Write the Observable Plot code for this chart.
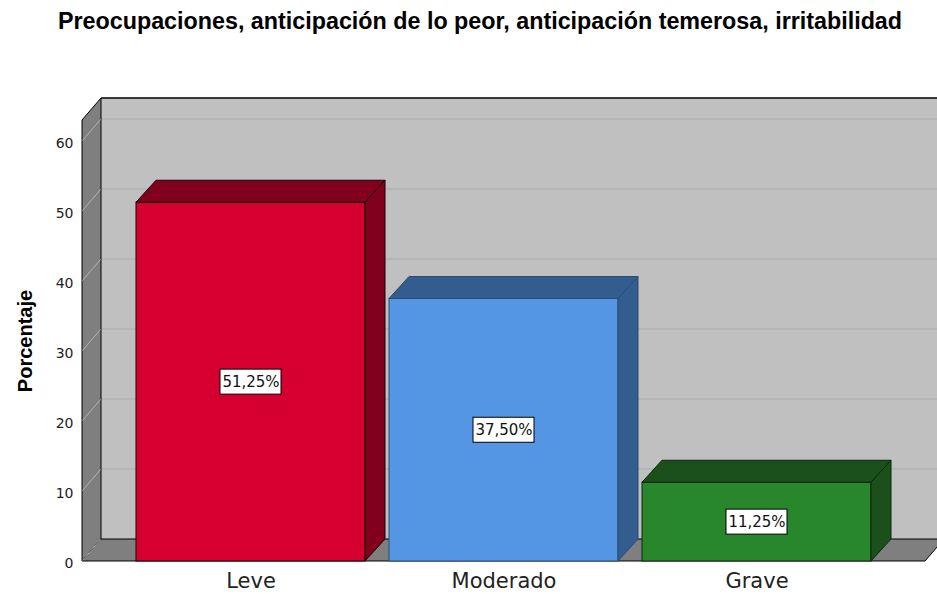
<!DOCTYPE html>
<html>
<head>
<meta charset="utf-8">
<script src="https://cdn.jsdelivr.net/npm/d3@7"></script>
<script src="https://cdn.jsdelivr.net/npm/@observablehq/plot@0.6"></script>
<style>
html, body { margin: 0; padding: 0; background: #fff; overflow: hidden; }
</style>
</head>
<body>
<div id="chart"></div>
<script>
// ---- data ----
const title = "Preocupaciones, anticipación de lo peor, anticipación temerosa, irritabilidad";
const yLabel = "Porcentaje";
const categories = ["Leve", "Moderado", "Grave"];
const percentages = [51.25, 37.50, 11.25];
const valueLabels = ["51,25%", "37,50%", "11,25%"];
const yTicks = [0, 10, 20, 30, 40, 50, 60];
const yMax = 63;

// ---- styles ----
const frontColors = ["#d60030", "#5596e4", "#28872c"];
const shadeColors = ["#80001e", "#345d8f", "#1b4f1b"];
const edgeColors = ["#1a0006", "#2a4c78", "#0d260d"];
const WX = 19, WY = -22;   // depth of walls
const BX = 20, BY = -22;   // depth of bars

const rows = categories.map((c, i) => ({cat: c, value: percentages[i], label: valueLabels[i], i}));

function points(pts) { return pts.map(p => p.join(",")).join(" "); }

function wallsMark(index, scales, values, dims) {
  const y = scales.y;
  const x0 = dims.marginLeft, x1 = dims.width - dims.marginRight;
  const yb = y(0), yt = y(yMax);
  const g = d3.create("svg:g");
  // back wall
  g.append("polygon")
    .attr("points", points([[x0 + WX, yt + WY], [x1 + WX, yt + WY], [x1 + WX, yb + WY], [x0 + WX, yb + WY]]))
    .attr("fill", "#c0c0c0");
  for (const t of yTicks) {
    if (t === 0) continue;
    g.append("line")
      .attr("x1", x0 + WX).attr("x2", x1 + WX)
      .attr("y1", y(t) + WY).attr("y2", y(t) + WY)
      .attr("stroke", "#acacac").attr("stroke-width", 1.2);
  }
  g.append("line")
    .attr("x1", x0 + WX).attr("x2", x1 + WX)
    .attr("y1", yt + WY).attr("y2", yt + WY)
    .attr("stroke", "#000").attr("stroke-width", 1.5);
  // left wall
  g.append("polygon")
    .attr("points", points([[x0, yb], [x0, yt], [x0 + WX, yt + WY], [x0 + WX, yb + WY]]))
    .attr("fill", "#7f7f7f").attr("stroke", "#000").attr("stroke-width", 1);
  // floor
  g.append("polygon")
    .attr("points", points([[x0, yb], [x1, yb], [x1 + WX, yb + WY], [x0 + WX, yb + WY]]))
    .attr("fill", "#7f7f7f").attr("stroke", "#000").attr("stroke-width", 1);
  // left wall grid lines
  for (const t of yTicks) {
    g.append("line")
      .attr("x1", x0 + 0.5).attr("x2", x0 + WX - 0.5)
      .attr("y1", y(t) - 0.5).attr("y2", y(t) + WY + 0.5)
      .attr("stroke", "#b4b4b4").attr("stroke-width", 1);
  }
  return g.node();
}

function barShadingMark(index, scales) {
  const {x, y} = scales;
  const bw = x.bandwidth();
  const g = d3.create("svg:g").attr("stroke-linejoin", "miter");
  for (const r of rows) {
    const xl = x(r.cat), xr = xl + bw, yv = y(r.value), yz = y(0);
    g.append("polygon")
      .attr("points", points([[xl, yv], [xr, yv], [xr + BX, yv + BY], [xl + BX, yv + BY]]))
      .attr("fill", shadeColors[r.i]).attr("stroke", edgeColors[r.i]).attr("stroke-width", 1);
    g.append("polygon")
      .attr("points", points([[xr, yv], [xr + BX, yv + BY], [xr + BX, yz + BY], [xr, yz]]))
      .attr("fill", shadeColors[r.i]).attr("stroke", edgeColors[r.i]).attr("stroke-width", 1);
  }
  return g.node();
}

function labelBoxMark(index, scales) {
  const {x, y} = scales;
  const bw = x.bandwidth();
  const g = d3.create("svg:g");
  for (const r of rows) {
    const cx = x(r.cat) + bw / 2, cy = y(r.value / 2);
    g.append("rect")
      .attr("x", cx - 30.5).attr("y", cy - 12.5)
      .attr("width", 61).attr("height", 25)
      .attr("fill", "#fff").attr("stroke", "#000").attr("stroke-width", 1);
  }
  return g.node();
}

const chart = Plot.plot({
  width: 937,
  height: 594,
  marginLeft: 82,
  marginRight: 12,
  marginTop: 120,
  marginBottom: 33,
  x: {domain: categories, paddingInner: 0.095, paddingOuter: 0.213, axis: null},
  y: {domain: [0, yMax], axis: null},
  color: {type: "identity"},
  style: {fontFamily: "DejaVu Sans", background: "#fff", color: "#000"},
  marks: [
    wallsMark,
    Plot.barY(rows, {
      x: "cat", y: "value",
      fill: d => frontColors[d.i],
      stroke: d => edgeColors[d.i],
      strokeWidth: 1
    }),
    barShadingMark,
    labelBoxMark,
    Plot.text(rows, {
      x: "cat", y: d => d.value / 2, text: "label",
      fontSize: 15, fill: "#111", lineAnchor: "middle"
    }),
    Plot.text(yTicks, {
      y: d => d, text: d => String(d), frameAnchor: "left",
      textAnchor: "end", dx: -9, dy: 2, fontSize: 14, fill: "#222"
    }),
    Plot.text(categories, {
      x: d => d, text: d => d, frameAnchor: "bottom",
      lineAnchor: "middle", dy: 20, fontSize: 21, fill: "#222"
    }),
    Plot.text([yLabel], {
      text: d => d, frameAnchor: "left", rotate: -90,
      textAnchor: "middle", lineAnchor: "middle",
      dx: -57, dy: 0, fontSize: 20, fontWeight: "bold", fill: "#000",
      fontFamily: "Liberation Sans"
    }),
    Plot.text([title], {
      text: d => d, frameAnchor: "top", lineAnchor: "middle",
      dx: -24, dy: -99, fontSize: 23.3, fontWeight: "bold", fill: "#000",
      fontFamily: "Liberation Sans"
    })
  ]
});

document.getElementById("chart").appendChild(chart);
</script>
</body>
</html>
